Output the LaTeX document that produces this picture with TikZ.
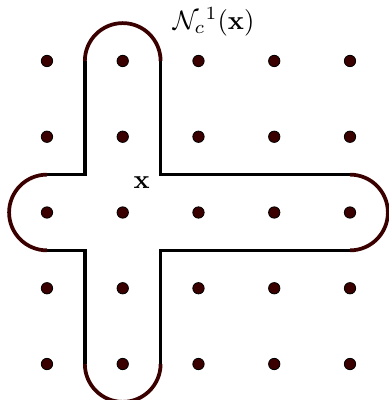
\documentclass[tikz,border=0pt]{standalone}
\usepackage{amsmath}
\usepackage{tikz}
\usetikzlibrary{positioning,calc}
\definecolor{maroon}{HTML}{3A0000}
\tikzset{
  pt/.style={circle, fill=maroon, draw=black, line width=0.3pt, inner sep=0pt, minimum size=1.5mm},
  side/.style={line width=1.4pt, draw=black},
  roundend/.style={line width=1.4pt, draw=maroon},
  lbl/.style={font=\normalsize, inner sep=1pt}
}
\begin{document}
\begin{tikzpicture}
  \useasboundingbox (-0.62,-0.475) rectangle (4.51,4.805);
  % grid of points
  \foreach \i in {0,...,4}
    \foreach \j in {0,...,4}
      \node[pt] (p-\i-\j) at (\i,\j) {};
  % straight sides of the cross
  \draw[side] (0.5,4) -- (0.5,2.5) -- (0,2.5);
  \draw[side] (0,1.5) -- (0.5,1.5) -- (0.5,0);
  \draw[side] (1.5,0) -- (1.5,1.5) -- (4,1.5);
  \draw[side] (4,2.5) -- (1.5,2.5) -- (1.5,4);
  % round ends
  \draw[roundend] (0.5,4) arc[start angle=180, end angle=0, radius=0.5];
  \draw[roundend] (4,2.5) arc[start angle=90, end angle=-90, radius=0.5];
  \draw[roundend] (1.5,0) arc[start angle=0, end angle=-180, radius=0.5];
  \draw[roundend] (0,1.5) arc[start angle=270, end angle=90, radius=0.5];
  % labels
  \node[lbl] (xlab) at (1.25,2.4) {$\mathbf{x}$};
  \node[lbl] (nbhd) at (2.2,4.52) {$\mathcal{N}_c{}^1(\mathbf{x})$};
\end{tikzpicture}
\end{document}
